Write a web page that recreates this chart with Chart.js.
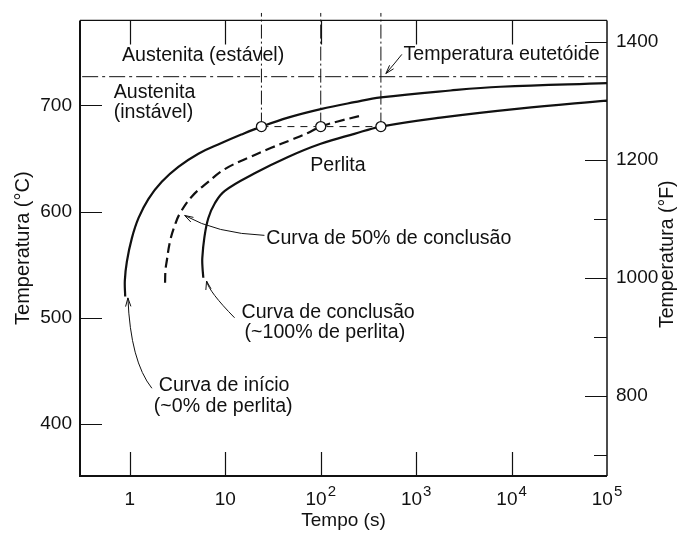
<!DOCTYPE html>
<html>
<head>
<meta charset="utf-8">
<title>Diagrama TTT</title>
<script src="https://cdn.jsdelivr.net/npm/chart.js@4.4.0/dist/chart.umd.min.js"></script>
<style>
  html, body { margin: 0; padding: 0; background: #fff; }
  #ttt { display: block; }
</style>
</head>
<body>
<canvas id="ttt" width="680" height="535"></canvas>
<script>
// curves: time (s) vs temperature (°C)
var startTime = [0.893, 0.885, 0.93, 1.049, 1.233, 1.567, 2.158, 3.22, 5.22, 9.12, 14.7, 23.9, 45.4, 100, 225, 427, 2290, 7640, 100000];
var startTemp = [520, 535, 553, 575, 594, 612, 628, 642, 654.5, 664.5, 672.5, 680, 688.5, 696.5, 703, 707.5, 714, 717.5, 721];

var halfTime = [2.336, 2.36, 2.43, 2.635, 2.97, 3.35, 4.44, 6.63, 9.88, 17.3, 30.3, 49.1, 73.3, 100, 150.8, 264];
var halfTemp = [533, 545, 553, 572, 587.6, 598.4, 614, 628, 640, 650.5, 660, 667.5, 674, 680, 684.8, 690.4];

var finishTime = [5.88, 5.76, 5.74, 6.02, 6.63, 7.77, 9.88, 20.3, 45.4, 100, 225, 427, 1800, 12000, 100000];
var finishTemp = [537.7, 548, 556.4, 575, 593.7, 607.8, 619.5, 636, 651.4, 663.8, 673.2, 680, 688.5, 697, 704.5];

// the three marked points and their guide lines
var circleTimes = [23.9, 100, 427];
var circleTemp = 680;
var guideTop = 787;
var eutectoid = 727;

// axes
var timeMin = 0.316, timeMax = 100000;
var tempMin = 351, tempMax = 780;
var xTicks = [1, 10, 100, 1000, 10000, 100000];
var xTickBase = ['1', '10', '10', '10', '10', '10'];
var xTickExp = ['', '', '2', '3', '4', '5'];
var yTicks = [400, 500, 600, 700];
var fTicks = [800, 1000, 1200, 1400];
var fMinorTicks = [700, 900, 1100, 1300];

var FONT = '"Liberation Sans", Arial, Helvetica, sans-serif';
var INK = '#111';

function pts(xs, ys) {
  return xs.map(function (x, i) { return { x: x, y: ys[i] }; });
}
function toF(c) { return c * 9 / 5 + 32; }

// text labels, anchored at (time, temp) by their left/middle point
var notes = [
  { text: 'Austenita (estável)', t: 0.825, T: 746.7 },
  { text: 'Temperatura eutetóide', t: 737, T: 748 },
  { text: 'Austenita', t: 0.676, T: 712 },
  { text: '(instável)', t: 0.676, T: 693.5 },
  { text: 'Perlita', t: 77.5, T: 643.6 },
  { text: 'Curva de 50% de conclusão', t: 26.9, T: 575 },
  { text: 'Curva de conclusão', t: 14.8, T: 505 },
  { text: '(~100% de perlita)', t: 15.9, T: 486.3 },
  { text: 'Curva de início', t: 2.01, T: 436.4 },
  { text: '(~0% de perlita)', t: 1.78, T: 416 }
];

// leader arrows: from label, bend, to the curve
var arrows = [
  { from: [708, 748], via: [590, 739], to: [482, 730] },
  { from: [25.7, 577.6], via: [8.1, 579.4], to: [3.75, 596.3] },
  { from: [12.5, 500], via: [6.74, 524.5], to: [6.36, 534.6] },
  { from: [1.70, 433.6], via: [1.014, 459], to: [0.953, 518.7] }
];

var framePlugin = {
  id: 'frame',
  afterDraw: function (chart) {
    var ctx = chart.ctx, a = chart.chartArea;
    var sx = chart.scales.x, sy = chart.scales.y, sf = chart.scales.y2;
    ctx.save();
    ctx.strokeStyle = INK;

    // inward tick marks
    ctx.lineWidth = 1.2;
    ctx.beginPath();
    yTicks.forEach(function (v) {
      var p = Math.round(sy.getPixelForValue(v)) + 0.5;
      ctx.moveTo(a.left, p); ctx.lineTo(a.left + 22, p);
    });
    xTicks.forEach(function (v) {
      if (v >= timeMax) return;
      var p = Math.round(sx.getPixelForValue(v)) + 0.5;
      ctx.moveTo(p, a.bottom); ctx.lineTo(p, a.bottom - 24);
      ctx.moveTo(p, a.top); ctx.lineTo(p, a.top + 24);
    });
    fTicks.forEach(function (v) {
      var p = Math.round(sf.getPixelForValue(v)) + 0.5;
      ctx.moveTo(a.right, p); ctx.lineTo(a.right - 22, p);
    });
    fMinorTicks.forEach(function (v) {
      var p = Math.round(sf.getPixelForValue(v)) + 0.5;
      ctx.moveTo(a.right, p); ctx.lineTo(a.right - 13, p);
    });
    ctx.stroke();

    // frame
    ctx.lineWidth = 2;
    ctx.beginPath();
    ctx.moveTo(a.left, a.top); ctx.lineTo(a.left, a.bottom); ctx.lineTo(a.right, a.bottom);
    ctx.stroke();
    ctx.lineWidth = 1.5;
    ctx.beginPath();
    ctx.moveTo(a.right, a.bottom); ctx.lineTo(a.right, a.top);
    ctx.stroke();
    ctx.lineWidth = 1.2;
    ctx.beginPath();
    ctx.moveTo(a.left, a.top); ctx.lineTo(a.right, a.top);
    ctx.stroke();

    // time tick labels with raised exponents
    ctx.fillStyle = INK;
    ctx.textBaseline = 'alphabetic';
    ctx.textAlign = 'left';
    xTicks.forEach(function (v, i) {
      var x = sx.getPixelForValue(v);
      ctx.font = '19px ' + FONT;
      var wb = ctx.measureText(xTickBase[i]).width;
      ctx.font = '15px ' + FONT;
      var we = xTickExp[i] ? ctx.measureText(xTickExp[i]).width + 1 : 0;
      var x0 = x - (wb + we) / 2;
      ctx.font = '19px ' + FONT;
      ctx.fillText(xTickBase[i], x0, a.bottom + 29);
      if (xTickExp[i]) {
        ctx.font = '15px ' + FONT;
        ctx.fillText(xTickExp[i], x0 + wb + 1, a.bottom + 20);
      }
    });

    // right axis title, reading bottom to top
    ctx.font = '19.5px ' + FONT;
    ctx.textAlign = 'center';
    ctx.textBaseline = 'middle';
    ctx.translate(668, (a.top + a.bottom) / 2 + 6);
    ctx.rotate(-Math.PI / 2);
    ctx.fillText('Temperatura (°F)', 0, 0);
    ctx.restore();
  }
};

var notesPlugin = {
  id: 'notes',
  afterDatasetsDraw: function (chart) {
    var ctx = chart.ctx, sx = chart.scales.x, sy = chart.scales.y;
    function px(p) { return [sx.getPixelForValue(p[0]), sy.getPixelForValue(p[1])]; }
    ctx.save();
    ctx.fillStyle = INK;
    ctx.font = '19.6px ' + FONT;
    ctx.textAlign = 'left';
    ctx.textBaseline = 'middle';
    notes.forEach(function (n) {
      ctx.fillText(n.text, sx.getPixelForValue(n.t), sy.getPixelForValue(n.T));
    });

    ctx.strokeStyle = INK;
    ctx.lineWidth = 1;
    arrows.forEach(function (ar) {
      var f = px(ar.from), v = px(ar.via), t = px(ar.to);
      ctx.beginPath();
      ctx.moveTo(f[0], f[1]);
      ctx.quadraticCurveTo(v[0], v[1], t[0], t[1]);
      ctx.stroke();
      var ang = Math.atan2(t[1] - v[1], t[0] - v[0]);
      ctx.beginPath();
      ctx.moveTo(t[0] - 9 * Math.cos(ang - 0.3), t[1] - 9 * Math.sin(ang - 0.3));
      ctx.lineTo(t[0], t[1]);
      ctx.lineTo(t[0] - 9 * Math.cos(ang + 0.3), t[1] - 9 * Math.sin(ang + 0.3));
      ctx.stroke();
    });
    ctx.restore();
  }
};

var guideSets = circleTimes.map(function (t) {
  return {
    data: [{ x: t, y: circleTemp }, { x: t, y: guideTop }],
    borderColor: INK, borderWidth: 1, borderDash: [14, 3, 2, 3],
    pointRadius: 0, clip: false
  };
});

var datasets = [
  {
    label: 'pontos',
    data: circleTimes.map(function (t) { return { x: t, y: circleTemp }; }),
    showLine: false, pointRadius: 5, pointBackgroundColor: '#fff',
    pointBorderColor: INK, pointBorderWidth: 1.3
  },
  {
    label: 'início',
    data: pts(startTime, startTemp),
    borderColor: INK, borderWidth: 2.2, tension: 0.4, pointRadius: 0
  },
  {
    label: '50%',
    data: pts(halfTime, halfTemp),
    borderColor: INK, borderWidth: 2.2, borderDash: [10, 5], tension: 0.4, pointRadius: 0
  },
  {
    label: 'conclusão',
    data: pts(finishTime, finishTemp),
    borderColor: INK, borderWidth: 2.2, tension: 0.4, pointRadius: 0
  },
  {
    label: 'ligação',
    data: [{ x: circleTimes[0], y: circleTemp }, { x: circleTimes[2], y: circleTemp }],
    borderColor: INK, borderWidth: 1, borderDash: [7, 6], pointRadius: 0
  },
  {
    label: 'eutetóide',
    data: [{ x: timeMin, y: eutectoid }, { x: timeMax, y: eutectoid }],
    borderColor: INK, borderWidth: 1, borderDash: [16, 4, 3, 4], pointRadius: 0
  }
].concat(guideSets);

var tickFont = { family: FONT, size: 19 };

new Chart(document.getElementById('ttt'), {
  type: 'line',
  data: { datasets: datasets },
  options: {
    responsive: false,
    animation: false,
    layout: { padding: { top: 17, right: 0, bottom: 0, left: 0 } },
    plugins: { legend: { display: false }, tooltip: { enabled: false } },
    scales: {
      x: {
        type: 'logarithmic', min: timeMin, max: timeMax,
        afterBuildTicks: function (s) { s.ticks = xTicks.map(function (v) { return { value: v }; }); },
        afterFit: function (s) { s.height = 59; },
        grid: { display: false, drawTicks: false },
        border: { display: false },
        ticks: { display: false },
        title: { display: true, text: 'Tempo (s)', color: INK, font: tickFont, padding: { top: 0, bottom: 3 } }
      },
      y: {
        type: 'linear', position: 'left', min: tempMin, max: tempMax,
        afterBuildTicks: function (s) { s.ticks = yTicks.map(function (v) { return { value: v }; }); },
        afterFit: function (s) { s.width = 80; },
        grid: { display: false, drawTicks: false },
        border: { display: false },
        ticks: { padding: 8, color: INK, font: tickFont },
        title: { display: true, text: 'Temperatura (°C)', color: INK, font: { family: FONT, size: 20 }, padding: { top: 11, bottom: 0 } }
      },
      y2: {
        type: 'linear', position: 'right', min: toF(tempMin), max: toF(tempMax),
        afterBuildTicks: function (s) { s.ticks = fTicks.map(function (v) { return { value: v }; }); },
        afterFit: function (s) { s.width = 73; },
        grid: { display: false, drawTicks: false },
        border: { display: false },
        ticks: { padding: 9, color: INK, font: tickFont, callback: function (v) { return String(v); } }
      }
    }
  },
  plugins: [framePlugin, notesPlugin]
});
</script>
</body>
</html>
